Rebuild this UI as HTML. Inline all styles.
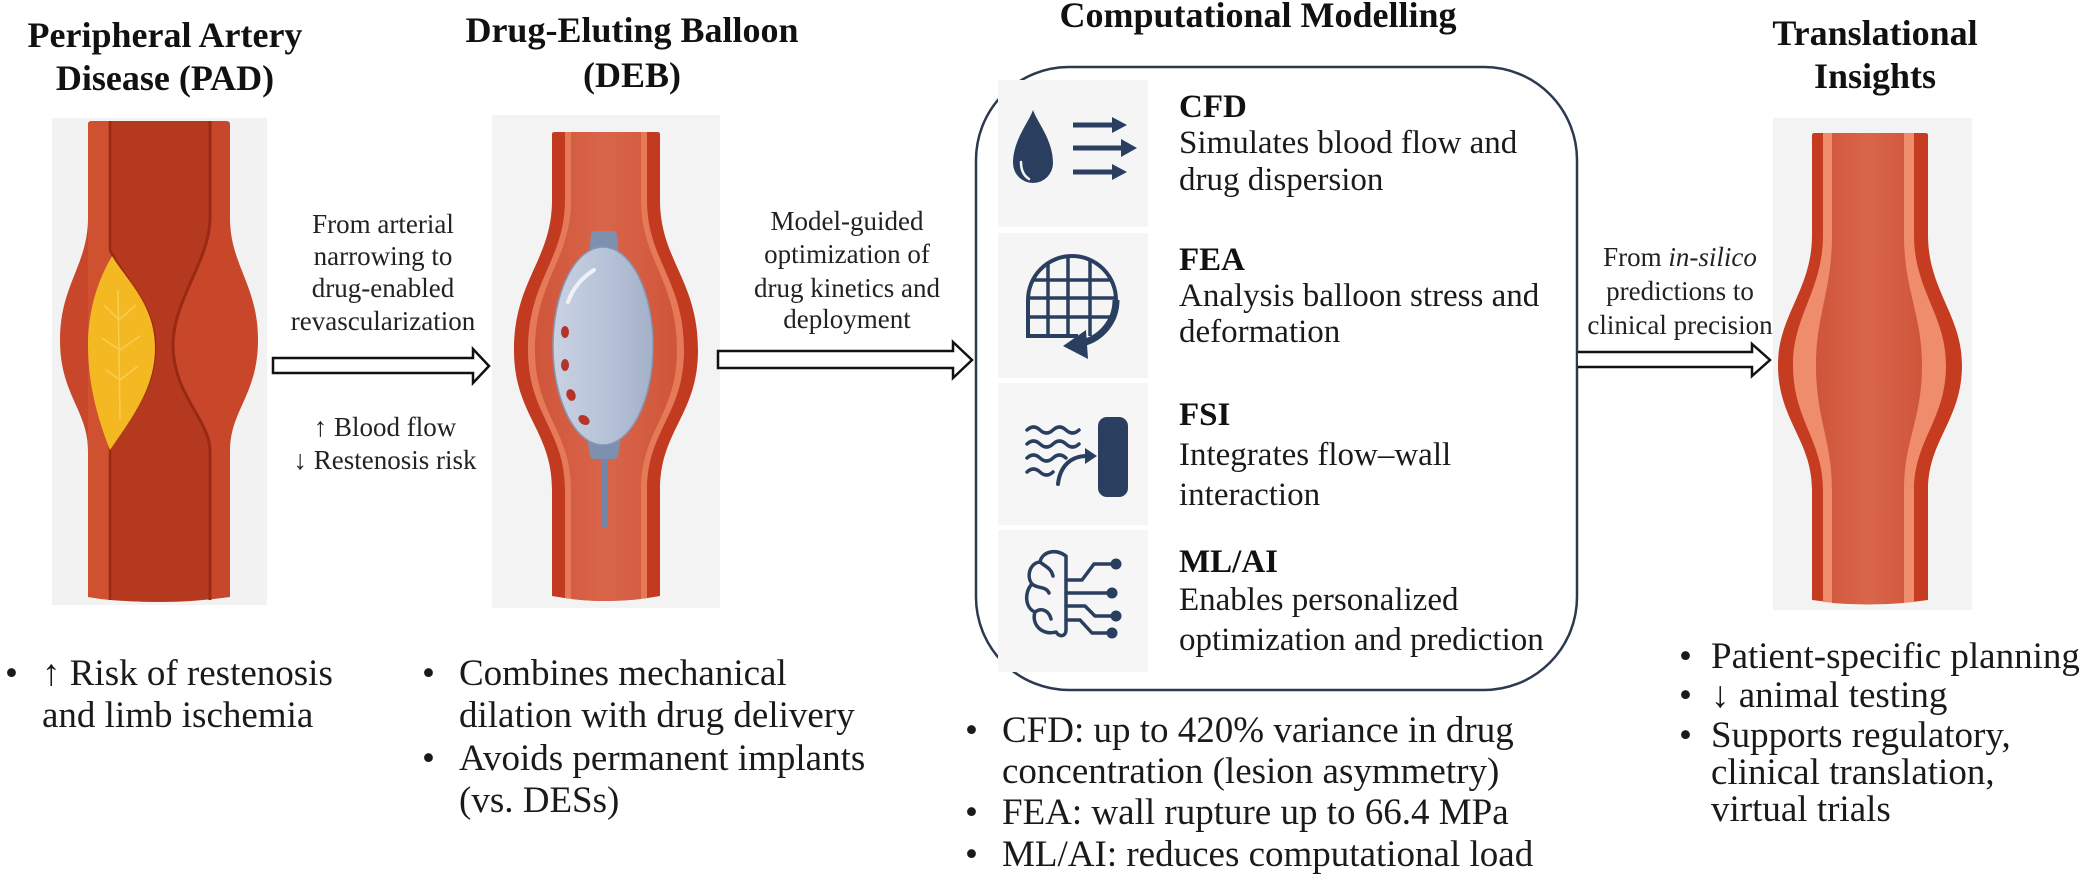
<!DOCTYPE html>
<html><head><meta charset="utf-8">
<style>
html,body{margin:0;padding:0;background:#fff;}
svg{display:block;}
text{font-family:"Liberation Serif","Times New Roman",serif;fill:#1a1a1a;}
.t{font-size:36px;font-weight:bold;fill:#111;}
.l{font-size:27px;fill:#222;}
.b{font-size:33px;}
.bh{font-size:33px;font-weight:bold;fill:#111;}
.p{font-size:37px;}
</style></head>
<body>
<svg width="2081" height="886" viewBox="0 0 2081 886" xmlns="http://www.w3.org/2000/svg">
<defs>
  <linearGradient id="bal" x1="0" x2="1" y1="0" y2="0">
    <stop offset="0" stop-color="#c9d2e2"/><stop offset="0.6" stop-color="#b4c0d6"/><stop offset="1" stop-color="#a3b1c9"/>
  </linearGradient>
  <linearGradient id="lum" x1="0" x2="1" y1="0" y2="0">
    <stop offset="0" stop-color="#cf553a"/><stop offset="0.5" stop-color="#d9654a"/><stop offset="1" stop-color="#cf553a"/>
  </linearGradient>
  <clipPath id="feaclip"><path d="M1028,336 L1028,300 A44,44 0 0 1 1116,300 L1116,336 Z"/></clipPath>
</defs>

<!-- Titles -->
<text class="t" x="165" y="47" text-anchor="middle">Peripheral Artery</text>
<text class="t" x="165" y="90" text-anchor="middle">Disease (PAD)</text>
<text class="t" x="632" y="42" text-anchor="middle">Drug-Eluting Balloon</text>
<text class="t" x="632" y="87" text-anchor="middle">(DEB)</text>
<text class="t" x="1258" y="27" text-anchor="middle">Computational Modelling</text>
<text class="t" x="1875" y="45" text-anchor="middle">Translational</text>
<text class="t" x="1875" y="88" text-anchor="middle">Insights</text>

<!-- PAD artery -->
<rect x="52" y="118" width="215" height="487" fill="#f2f2f2"/>
<path d="M88,124 Q88,121 92,121 L226,121 Q230,121 230,124 L230,218 C230,265 258,285 258,340 C258,395 230,410 230,451 L230,597 Q159,607 88,597 L88,451 C88,410 60,395 60,340 C60,285 88,265 88,218 Z" fill="#c8462a"/>
<path d="M88,124 Q88,121 92,121 L110,121 L110,600 Q99,599 88,597 Z" fill="#d0512f"/>
<path d="M110,121 L210,121 L210,218 C210,260 173,300 173,345 C173,395 210,420 210,451 L210,599 Q160,604 110,600 L110,448 C128,420 155,390 155,348 C155,305 128,285 112,258 L110,250 Z" fill="#b5391f"/>
<path d="M210,121 L210,218 C210,260 173,300 173,345 C173,395 210,420 210,451 L210,600" fill="none" stroke="#9a2913" stroke-width="3"/>
<path d="M110,121 L110,250 C128,285 155,305 155,348 C155,390 128,420 110,448 L110,600" fill="none" stroke="#9a2913" stroke-width="2.5"/>
<path d="M112,256 C98,280 88,310 88,345 C88,385 98,420 110,450 C130,420 155,390 155,348 C155,305 128,282 112,256 Z" fill="#f4b823"/>
<path d="M118,290 L120,420 M119,320 L104,305 M119,320 L136,305 M120,350 L102,338 M120,350 L140,336 M120,380 L106,370 M120,380 L138,366" fill="none" stroke="#f8cd55" stroke-width="1.5"/>

<!-- Arrow 1 -->
<path d="M273,358 L473,358 L473,349 L489,366 L473,383 L473,373 L273,373 Z" fill="#fff" stroke="#111" stroke-width="2.5" stroke-linejoin="miter"/>
<text class="l" x="383" y="233" text-anchor="middle">From arterial</text>
<text class="l" x="383" y="265" text-anchor="middle">narrowing to</text>
<text class="l" x="383" y="297" text-anchor="middle">drug-enabled</text>
<text class="l" x="383" y="330" text-anchor="middle">revascularization</text>
<text class="l" x="385" y="436" text-anchor="middle">↑ Blood flow</text>
<text class="l" x="385" y="469" text-anchor="middle">↓ Restenosis risk</text>

<!-- DEB artery -->
<rect x="492" y="115" width="228" height="493" fill="#f3f3f3"/>
<path d="M552,134 Q552,132 555,132 L657,132 Q660,132 660,134 L660,200 C660,260 698,280 698,350 C698,415 660,430 660,490 L660,596 Q606,606 552,596 L552,490 C552,430 514,415 514,350 C514,280 552,260 552,200 Z" fill="#c23a1f"/>
<path d="M565,132 L647,132 L647,200 C647,260 684,280 684,350 C684,415 647,430 647,490 L647,598 Q606,603 565,598 L565,490 C565,430 528,415 528,350 C528,280 565,260 565,200 Z" fill="#e67a58"/>
<path d="M571,132 L641,132 L641,200 C641,260 677,280 677,350 C677,415 641,430 641,490 L641,599 Q606,603 571,599 L571,490 C571,430 535,415 535,350 C535,280 571,260 571,200 Z" fill="url(#lum)"/>
<rect x="602" y="452" width="6" height="76" rx="3" fill="#7487a8"/>
<path d="M589,256 L591,234 Q592,231 595,231 L613,231 Q616,231 617,234 L619,256 Z" fill="#7d90b0"/>
<path d="M587,436 L621,436 L618,456 Q617,459 614,459 L594,459 Q591,459 590,456 Z" fill="#7d90b0"/>
<ellipse cx="603" cy="346" rx="50" ry="99" fill="url(#bal)" stroke="#8797b3" stroke-width="1.5"/>
<path d="M568,302 Q575,282 594,270" fill="none" stroke="#eef2f8" stroke-width="4" stroke-linecap="round"/>
<ellipse cx="565" cy="332" rx="4" ry="6" fill="#b5342a"/>
<ellipse cx="565" cy="365" rx="4" ry="6" fill="#b5342a"/>
<ellipse cx="571" cy="395" rx="4.5" ry="6" fill="#b5342a" transform="rotate(-20 571 395)"/>
<ellipse cx="584" cy="420" rx="6" ry="4.5" fill="#b5342a" transform="rotate(35 584 420)"/>

<!-- Arrow 2 -->
<path d="M718,351 L953,351 L953,342 L972,360 L953,378 L953,368 L718,368 Z" fill="#fff" stroke="#111" stroke-width="2.5"/>
<text class="l" x="847" y="230" text-anchor="middle">Model-guided</text>
<text class="l" x="847" y="263" text-anchor="middle">optimization of</text>
<text class="l" x="847" y="297" text-anchor="middle">drug kinetics and</text>
<text class="l" x="847" y="328" text-anchor="middle">deployment</text>

<!-- Computational box -->
<rect x="976" y="67" width="601" height="623" rx="93" ry="93" fill="#fff" stroke="#2c3a50" stroke-width="2.5"/>
<rect x="998" y="80" width="150" height="147" fill="#f5f5f5"/>
<rect x="998" y="233" width="150" height="145" fill="#f5f5f5"/>
<rect x="998" y="383" width="150" height="142" fill="#f6f6f6"/>
<rect x="998" y="530" width="150" height="142" fill="#f6f6f6"/>

<!-- CFD icon -->
<g fill="#2a3f5f" stroke="#2a3f5f">
<path d="M1033,110 C1029,122 1013,140 1013,163 A20,20 0 0 0 1053,163 C1053,140 1037,122 1033,110 Z" stroke="none"/>
<line x1="1073" y1="125" x2="1115" y2="125" stroke-width="5"/>
<polygon points="1112,117 1127,125 1112,133" stroke="none"/>
<line x1="1073" y1="148" x2="1124" y2="148" stroke-width="5"/>
<polygon points="1121,139 1137,148 1121,157" stroke="none"/>
<line x1="1073" y1="172" x2="1115" y2="172" stroke-width="5"/>
<polygon points="1112,164 1127,172 1112,180" stroke="none"/>
</g>
<path d="M1021,162 Q1021,174 1029,179" fill="none" stroke="#f4f4f4" stroke-width="2.5" stroke-linecap="round"/>

<!-- FEA icon -->
<g fill="none" stroke="#2a3f5f">
<g clip-path="url(#feaclip)" stroke-width="3.5">
<line x1="1020" y1="280" x2="1120" y2="280"/>
<line x1="1020" y1="298" x2="1120" y2="298"/>
<line x1="1020" y1="317" x2="1120" y2="317"/>
<line x1="1048" y1="250" x2="1048" y2="340"/>
<line x1="1068" y1="250" x2="1068" y2="340"/>
<line x1="1090" y1="250" x2="1090" y2="340"/>
</g>
<path d="M1078,336 L1028,336 L1028,300 A44,44 0 0 1 1116,300" stroke-width="4"/>
<path d="M1116,300 A44,44 0 0 1 1082,343" stroke-width="7"/>
</g>
<polygon points="1086,330 1063,346 1088,359" fill="#2a3f5f"/>

<!-- FSI icon -->
<g fill="none" stroke="#2a3f5f" stroke-width="3.5" stroke-linecap="round">
<path d="M1027,430 q6.5,-6 13,0 t13,0 t13,0 t13,0"/>
<path d="M1027,444 q6.5,-6 13,0 t13,0 t13,0 t13,0"/>
<path d="M1027,458 q6.5,-6 13,0 t13,0 t13,0"/>
<path d="M1027,472 q6.5,-6 13,0 t13,0"/>
<path d="M1058,484 C1060,466 1071,456 1087,456" stroke-width="4"/>
</g>
<polygon points="1085,448 1097,456 1085,464" fill="#2a3f5f"/>
<rect x="1098" y="417" width="30" height="80" rx="9" fill="#2a3f5f"/>

<!-- ML/AI icon -->
<g fill="none" stroke="#2a3f5f" stroke-width="3.5" stroke-linecap="round" stroke-linejoin="round">
<path d="M1066,556 C1055,548 1042,552 1040,562 C1030,563 1026,576 1032,584 C1024,592 1025,608 1035,612 C1031,624 1042,636 1056,632 C1060,638 1066,636 1066,630 Z"/>
<path d="M1040,562 C1046,567 1051,568 1053,576"/>
<path d="M1032,584 C1038,589 1046,586 1049,593"/>
<path d="M1035,612 C1042,607 1049,611 1051,619"/>
<path d="M1066,580 L1082,580 L1094,564 L1112,564"/>
<path d="M1066,593 L1108,593"/>
<path d="M1066,606 L1085,606 L1095,616 L1112,616"/>
<path d="M1066,620 L1080,620 L1092,633 L1108,633"/>
</g>
<g fill="#2a3f5f">
<circle cx="1116" cy="564" r="5.5"/><circle cx="1112" cy="593" r="5.5"/>
<circle cx="1116" cy="616" r="5.5"/><circle cx="1112" cy="633" r="5.5"/>
</g>

<!-- Box text -->
<text class="bh" x="1179" y="117">CFD</text>
<text class="b" x="1179" y="153">Simulates blood flow and</text>
<text class="b" x="1179" y="190">drug dispersion</text>
<text class="bh" x="1179" y="270">FEA</text>
<text class="b" x="1179" y="306">Analysis balloon stress and</text>
<text class="b" x="1179" y="342">deformation</text>
<text class="bh" x="1179" y="425">FSI</text>
<text class="b" x="1179" y="465">Integrates flow–wall</text>
<text class="b" x="1179" y="505">interaction</text>
<text class="bh" x="1179" y="572">ML/AI</text>
<text class="b" x="1179" y="610">Enables personalized</text>
<text class="b" x="1179" y="650">optimization and prediction</text>

<!-- Arrow 3 -->
<path d="M1578,352 L1752,352 L1752,344 L1770,360 L1752,376 L1752,367 L1578,367" fill="#fff" stroke="#111" stroke-width="2.5"/>
<text class="l" x="1680" y="266" text-anchor="middle">From <tspan font-style="italic">in-silico</tspan></text>
<text class="l" x="1680" y="300" text-anchor="middle">predictions to</text>
<text class="l" x="1680" y="334" text-anchor="middle">clinical precision</text>

<!-- Translational artery -->
<rect x="1773" y="118" width="199" height="492" fill="#f3f3f3"/>
<path d="M1812,135 Q1812,133 1815,133 L1925,133 Q1928,133 1928,135 L1928,235 C1928,290 1962,315 1962,365 C1962,420 1928,440 1928,490 L1928,600 Q1870,608 1812,600 L1812,490 C1812,440 1778,420 1778,365 C1778,315 1812,290 1812,235 Z" fill="#c63c20"/>
<path d="M1823,133 L1914,133 L1914,235 C1914,290 1946,315 1946,365 C1946,420 1914,440 1914,490 L1914,602 Q1868,606 1823,602 L1823,490 C1823,440 1793,420 1793,365 C1793,315 1823,290 1823,235 Z" fill="#ee8c6b"/>
<path d="M1832,133 L1904,133 L1904,235 C1904,290 1922,315 1922,365 C1922,420 1904,440 1904,490 L1904,603 Q1868,606 1832,603 L1832,490 C1832,440 1816,420 1816,365 C1816,315 1832,290 1832,235 Z" fill="url(#lum)"/>

<!-- Bottom bullets: PAD -->
<text class="p" x="5" y="685">•</text>
<text class="p" x="42" y="685">↑ Risk of restenosis</text>
<text class="p" x="42" y="727">and limb ischemia</text>

<!-- DEB bullets -->
<text class="p" x="422" y="685">•</text>
<text class="p" x="459" y="685">Combines mechanical</text>
<text class="p" x="459" y="727">dilation with drug delivery</text>
<text class="p" x="422" y="770">•</text>
<text class="p" x="459" y="770">Avoids permanent implants</text>
<text class="p" x="459" y="812">(vs. DESs)</text>

<!-- Computational bullets -->
<text class="p" x="965" y="742">•</text>
<text class="p" x="1002" y="742">CFD: up to 420% variance in drug</text>
<text class="p" x="1002" y="783">concentration (lesion asymmetry)</text>
<text class="p" x="965" y="824">•</text>
<text class="p" x="1002" y="824">FEA: wall rupture up to 66.4 MPa</text>
<text class="p" x="965" y="866">•</text>
<text class="p" x="1002" y="866">ML/AI: reduces computational load</text>

<!-- Translational bullets -->
<text class="p" x="1679" y="668">•</text>
<text class="p" x="1711" y="668">Patient-specific planning</text>
<text class="p" x="1679" y="707">•</text>
<text class="p" x="1711" y="707">↓ animal testing</text>
<text class="p" x="1679" y="747">•</text>
<text class="p" x="1711" y="747">Supports regulatory,</text>
<text class="p" x="1711" y="784">clinical translation,</text>
<text class="p" x="1711" y="821">virtual trials</text>
</svg>
</body></html>
